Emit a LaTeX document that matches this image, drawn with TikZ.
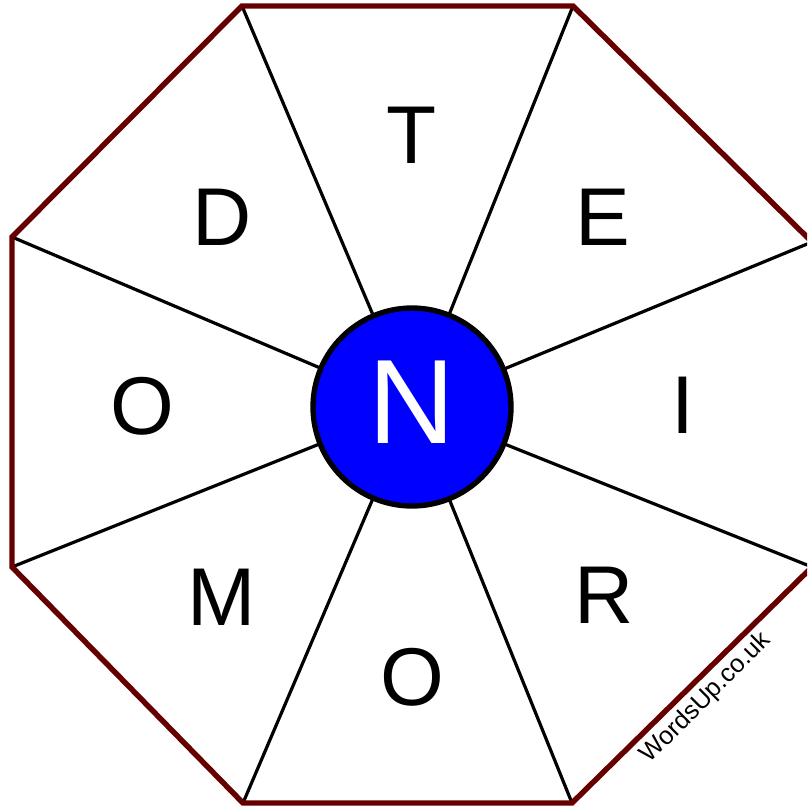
\documentclass[tikz,border=0pt]{standalone}
\usepackage{fontspec}
\setmainfont{Liberation Sans}
\definecolor{octbrown}{HTML}{660000}
\definecolor{nblue}{HTML}{0000FF}
\begin{document}
\begin{tikzpicture}[x=0.75pt,y=-0.75pt,
  letter/.style={font=\fontsize{61.5}{61.5}\selectfont, inner sep=0pt, text height=44pt, text depth=0pt},
  spoke/.style={line width=2.4pt},
  rim/.style={draw=octbrown, line width=4.1pt, line join=miter},
  hub/.style={circle, draw=black, line width=4pt, fill=nblue, minimum size=148.5pt, inner sep=0pt}]
\useasboundingbox (0,0) rectangle (807,810);
\clip (0,0) rectangle (807,810);
\coordinate (v1) at (242,6);
\coordinate (v2) at (573,6);
\coordinate (v3) at (812,242);
\coordinate (v4) at (812,567);
\coordinate (v5) at (572,803);
\coordinate (v6) at (243,803);
\coordinate (v7) at (12,567);
\coordinate (v8) at (12,237);
\coordinate (c) at (412,407);
\foreach \v in {v1,v2,v3,v4,v5,v6,v7,v8} \draw[spoke] (c) -- (\v);
\draw[rim] (v1) -- (v2) -- (v3) -- (v4) -- (v5) -- (v6) -- (v7) -- (v8) -- cycle;
\node[hub] (hubc) at (c) {};
\node[inner sep=0pt, text height=64.4pt, text depth=0pt, text=white, font=\fontsize{90}{90}\selectfont] (nletter) at (412,401) {N};
\node[letter] (lt) at (412,134) {T};
\node[letter] (le) at (603,216) {E};
\node[letter] (li) at (683,404) {I};
\node[letter] (lr) at (604,594) {R};
\node[letter] (lo1) at (412,676) {O};
\node[letter] (lm) at (222,596) {M};
\node[letter] (lo2) at (142,405) {O};
\node[letter] (ld) at (222,216) {D};
\node[rotate=45, inner sep=0pt, font=\fontsize{19}{19}\selectfont] (wm) at (706,698) {WordsUp.co.uk};
\end{tikzpicture}
\end{document}
